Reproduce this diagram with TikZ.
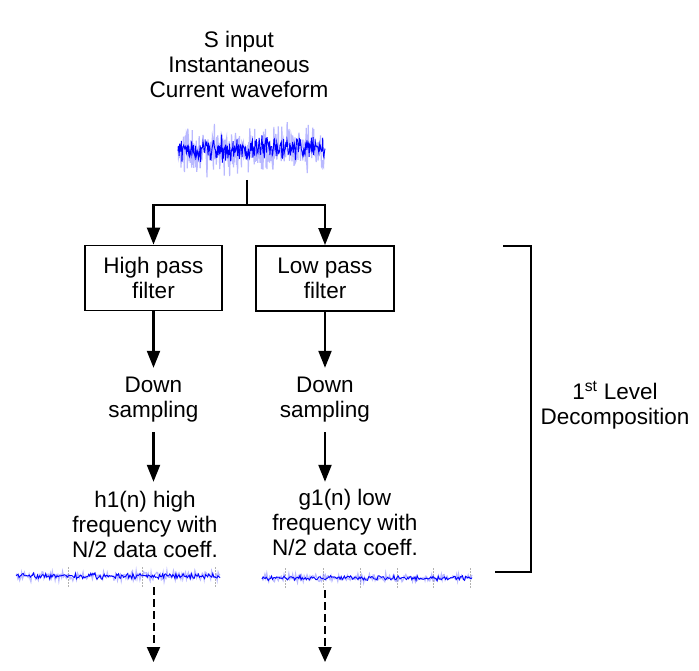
\documentclass[tikz,border=0pt]{standalone}
\usepackage{fontspec}
\setmainfont{Liberation Sans}
\usetikzlibrary{arrows.meta,calc}
\begin{document}
\begin{tikzpicture}[x=1pt,y=-1pt,
  font=\fontsize{22.5}{25}\selectfont,
  conn/.style={line width=2.2pt},
  arr/.style={conn,-{Triangle[length=17pt,width=13pt]}},
  darr/.style={line width=2pt,dash pattern=on 8pt off 4pt,-{Triangle[length=15pt,width=13pt]}},
  fbox/.style={draw,line width=1.8pt,minimum width=137pt,minimum height=65pt,align=center,inner sep=0pt},
  lbl/.style={align=center,inner sep=0pt},
  wave/.style={inner sep=0pt},
  wlight/.style={blue!55,opacity=0.5,line width=1.2pt},
  wdark/.style={blue,line width=0.9pt},
  tick/.style={gray!60,dash pattern=on 1.5pt off 1.5pt,line width=0.8pt}]
\useasboundingbox (0,0) rectangle (699,671);
\pgfmathsetseed{7}
% title
\node[lbl] (title) at (239,64) {S input\\Instantaneous\\Current waveform};
% input waveform
\node[wave,minimum width=148pt,minimum height=62pt] (win) at (251,149) {};
\draw[wlight] plot[domain=178:325,samples=300] (\x,{149+11.5*(rand+rand+rand)});
\draw[wdark] plot[domain=178:325,samples=260] (\x,{149+5.5*(rand+rand+rand)});
\coordinate (ws) at (247,180);
\coordinate (split) at (247,205);
% filters
\node[fbox] (hp) at (153.5,278) {High pass\\filter};
\node[fbox,minimum width=138pt] (lp) at (325,278.5) {Low pass\\filter};
\draw[conn] (ws) -- (split);
\draw[arr] (split) -| (hp.north);
\draw[arr] (split) -| (lp.north);
% down sampling
\node[lbl,minimum height=64pt] (ds1) at (153.5,400) {Down\\sampling};
\node[lbl,minimum height=64pt] (ds2) at (325,400) {Down\\sampling};
\draw[arr] (hp.south) -- (ds1.north);
\draw[arr] (lp.south) -- (ds2.north);
% coefficients
\node[lbl,minimum height=84pt] (h1) at (145,524) {h1(n) high\\frequency with\\N/2 data coeff.};
\node[lbl,minimum height=81pt] (g1) at (345,522.5) {g1(n) low\\frequency with\\N/2 data coeff.};
\draw[arr] (ds1.south) -- (ds1.south |- h1.north);
\draw[arr] (ds2.south) -- (ds2.south |- g1.north);
% output waveforms
\node[wave,minimum width=204pt,minimum height=22pt] (wl) at (118,576) {};
\node[wave,minimum width=210pt,minimum height=24pt] (wr) at (367,578) {};
\foreach \t in {68,142,215} \draw[tick] (\t,567) -- (\t,587);
\foreach \t in {285,323,360,397,433,470} \draw[tick] (\t,568) -- (\t,589);
\draw[wlight] plot[domain=16:220,samples=220] (\x,{576+3*(rand+rand)});
\draw[wdark] plot[domain=16:220,samples=200] (\x,{576+1.8*(rand+rand)});
\draw[wlight] plot[domain=262:472,samples=220] (\x,{578+2.6*(rand+rand)});
\draw[wdark] plot[domain=262:472,samples=200] (\x,{578+1.5*(rand+rand)});
\coordinate (el) at (153.5,662);
\coordinate (er) at (325,662);
\draw[darr] (wl.south -| el) -- (el);
\draw[darr] (wr.south -| er) -- (er);
% bracket
\coordinate (b1) at (503,246);
\coordinate (b2) at (531,246);
\coordinate (b3) at (531,572);
\coordinate (b4) at (495,572);
\draw[line width=2pt] (b1) -- (b2) -- (b3) -- (b4);
\node[lbl] (lev) at (615,405) {1\textsuperscript{st} Level\\Decomposition};
\end{tikzpicture}
\end{document}
